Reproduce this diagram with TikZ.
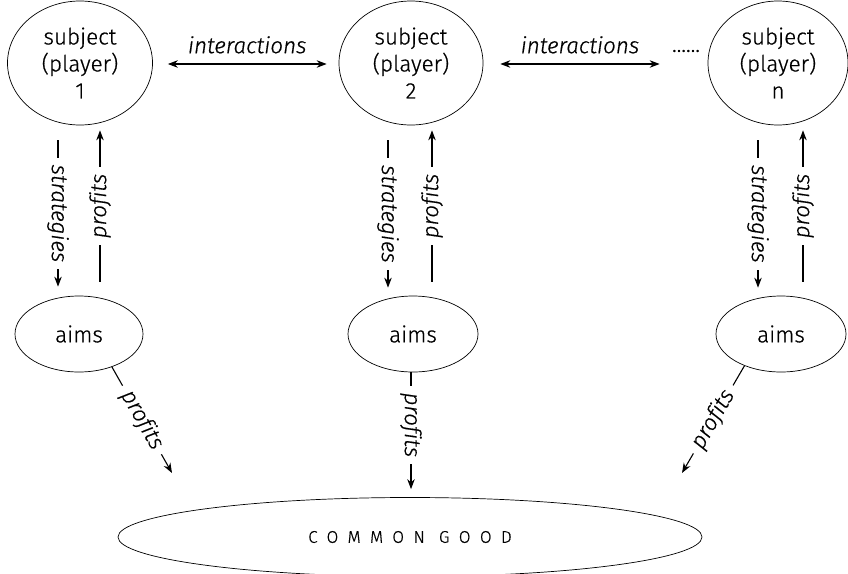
\documentclass[tikz,border=0pt]{standalone}
\usepackage{fontspec}
\setmainfont{Fira Sans}[UprightFont={* Light},ItalicFont={* Light Italic},Ligatures=NoCommon,FakeBold=0.6]
\newfontfamily\spacedfont{Fira Sans}[UprightFont={* Light},LetterSpace=55,FakeBold=0.6]
\usetikzlibrary{shapes.geometric,arrows.meta,calc}
\begin{document}
\begin{tikzpicture}[x=1pt,y=-1pt,
  box/.style={ellipse,draw,line width=0.7pt,inner sep=0pt,align=center,font=\fontsize{22.5}{27}\selectfont},
  conn/.style={line width=1.1pt,-{Stealth[length=10pt,width=7.5pt]}},
  biconn/.style={line width=1.1pt,{Stealth[length=10pt,width=7.5pt]}-{Stealth[length=10pt,width=7.5pt]}},
  lab/.style={fill=white,inner xsep=7pt,inner ysep=1pt,font=\itshape\fontsize{22.5}{27}\selectfont},
  toplab/.style={inner sep=0pt,font=\itshape\fontsize{22.5}{27}\selectfont}
]
\useasboundingbox (0,0) rectangle (848,573);
% top subjects
\node[box,minimum width=145,minimum height=124] (s1) at (80,63) {subject\\(player)\\1};
\node[box,minimum width=144,minimum height=124] (s2) at (411,63) {subject\\(player)\\2};
\node[box,minimum width=140,minimum height=124] (sn) at (778,63) {subject\\(player)\\n};
% aims
\node[box,minimum width=128,minimum height=76] (a1) at (79,334) {aims};
\node[box,minimum width=130,minimum height=76] (a2) at (413,334) {aims};
\node[box,minimum width=130,minimum height=76] (an) at (781,334) {aims};
% common good
\node[ellipse,draw,line width=0.7pt,inner sep=0pt,minimum width=584,minimum height=79,
      font=\spacedfont\fontsize{17}{20}\selectfont] (cg) at (410,537) {COMMON GOOD};
% dots
\node[inner sep=0pt,font=\fontsize{22.5}{27}\selectfont] (dots) at (686,51) {......};
% interactions
\draw[biconn] ($(s1.east)+(15,1)$) -- node[toplab,above=10pt]{interactions} ($(s2.west)+(-12,1)$);
\draw[biconn] ($(s2.east)+(17,1)$) -- node[toplab,above=10pt]{interactions} ($(sn.west)+(-48,1)$);
% column 1
\draw[conn] ($(s1.south)+(-22,15)$) -- node[lab,rotate=-90]{strategies} ($(a1.north)+(-21,-9)$);
\draw[conn] ($(a1.north)+(21,-14)$) -- node[lab,rotate=90]{profits} ($(s1.south)+(20,5)$);
% column 2
\draw[conn] ($(s2.south)+(-23,15)$) -- node[lab,rotate=-90]{strategies} ($(a2.north)+(-25,-8)$);
\draw[conn] ($(a2.north)+(19,-14)$) -- node[lab,rotate=90]{profits} ($(s2.south)+(21,5)$);
% column n
\draw[conn] ($(sn.south)+(-20,15)$) -- node[lab,rotate=-90]{strategies} ($(an.north)+(-23,-8)$);
\draw[conn] ($(an.north)+(22,-14)$) -- node[lab,rotate=90]{profits} ($(sn.south)+(25,5)$);
% to common good
\draw[conn] (a1.-45) -- node[lab,sloped]{profits} ($(cg.center)+(-238,-64)$);
\draw[conn] ($(a2.south)+(-2,0)$) -- node[lab,rotate=-90,pos=0.45]{profits} ($(cg.north)+(1,-8)$);
\draw[conn] (an.-139) -- node[lab,sloped]{profits} ($(cg.center)+(272,-64)$);
\end{tikzpicture}
\end{document}
